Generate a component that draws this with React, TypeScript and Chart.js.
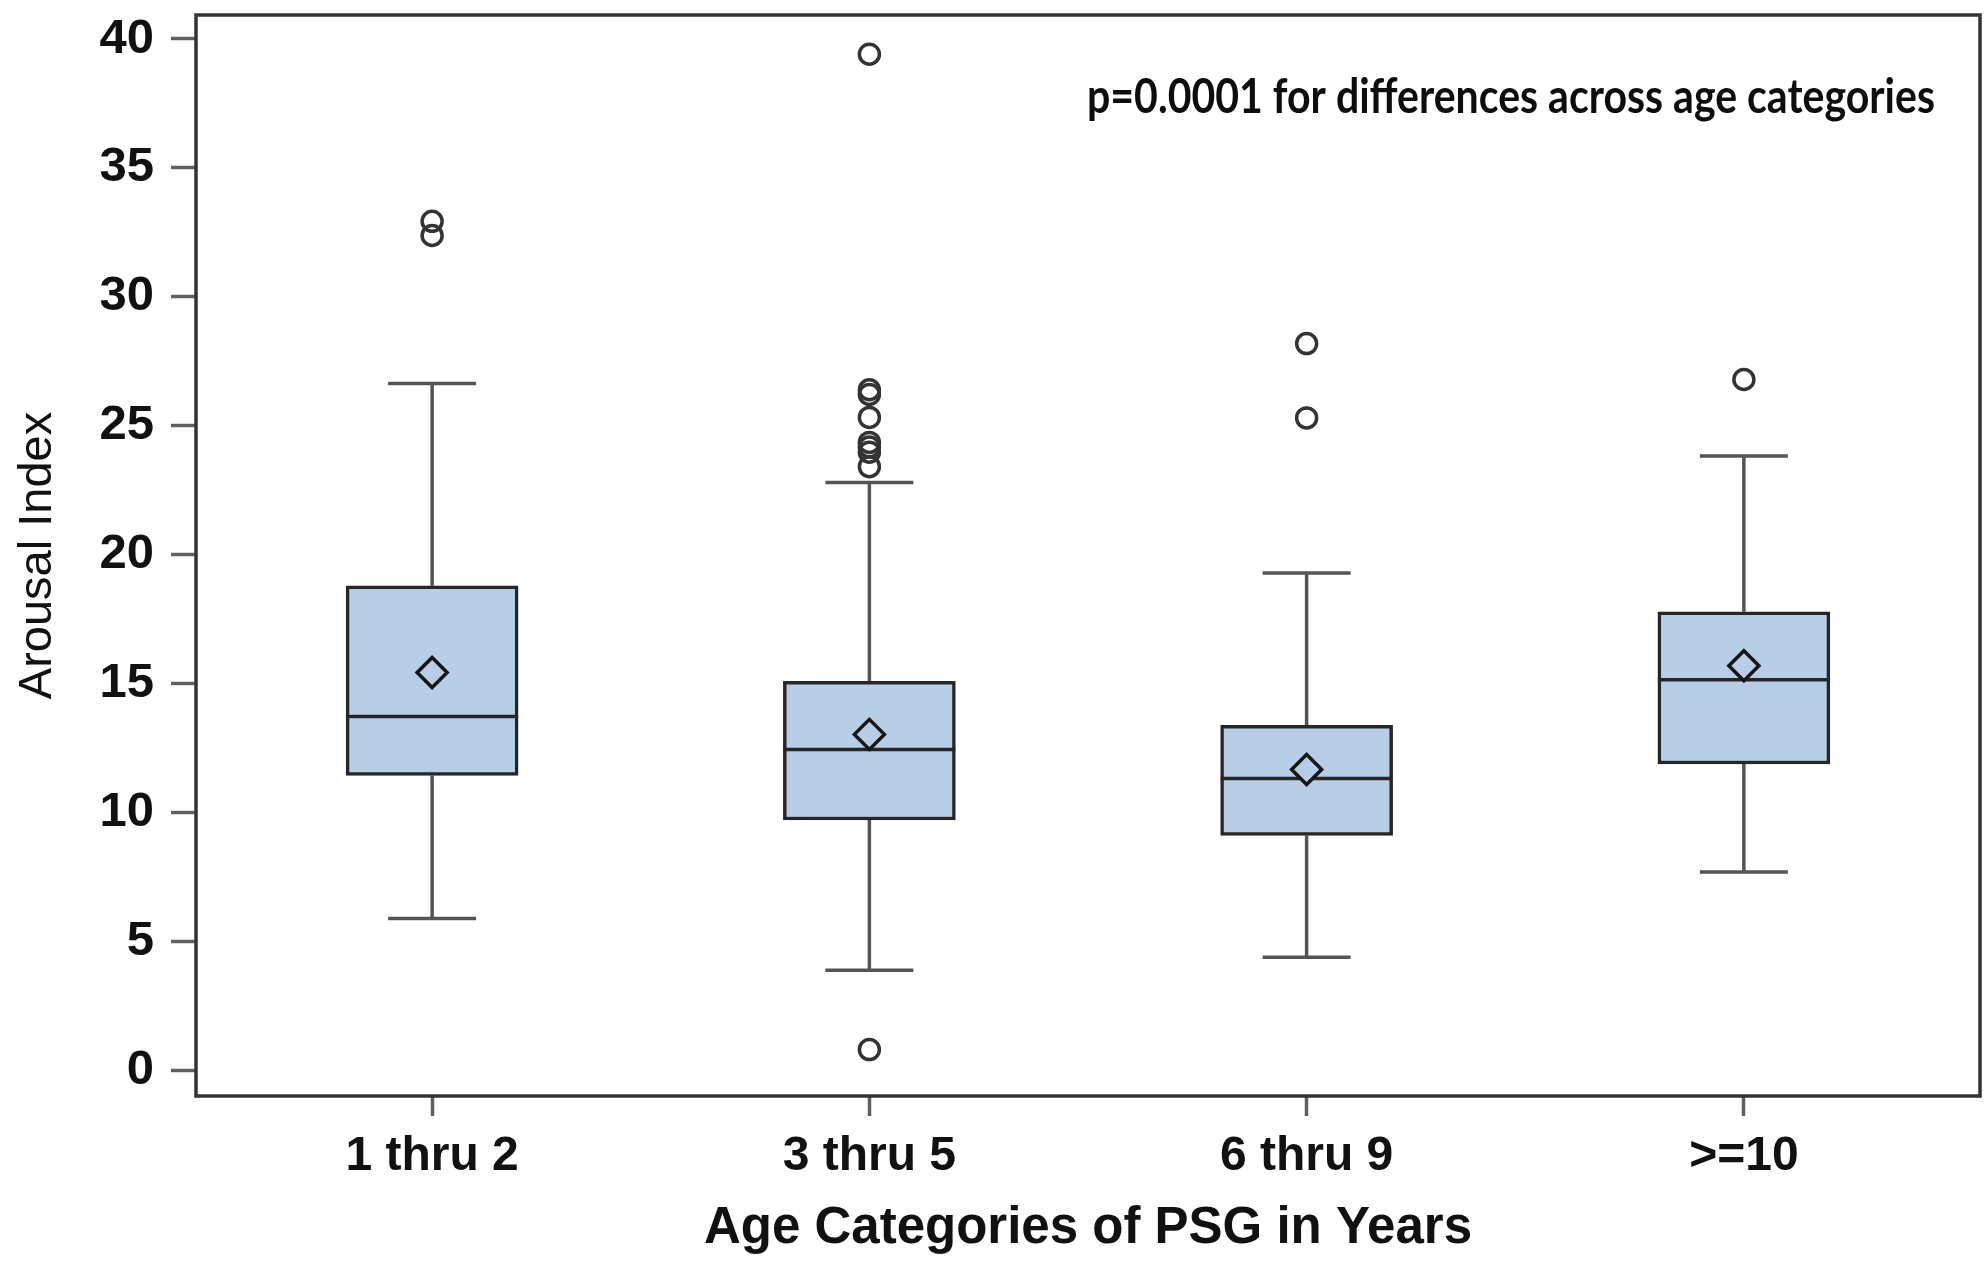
import React, { useEffect, useRef } from 'react';
import { Chart, registerables } from 'chart.js';

Chart.register(...registerables);

// ---- data ----
const categories = ['1 thru 2', '3 thru 5', '6 thru 9', '>=10'];
const whiskerLow = [5.9, 3.9, 4.4, 7.7];
const q1 = [11.45, 9.72, 9.12, 11.89];
const median = [13.73, 12.45, 11.33, 15.16];
const q3 = [18.8, 15.1, 13.39, 17.79];
const whiskerHigh = [26.64, 22.81, 19.3, 23.83];
const means = [15.44, 13.04, 11.68, 15.7];
const outliers1 = [32.93, 32.38];
const outliers2 = [39.41, 26.4, 26.22, 25.33, 24.36, 24.18, 23.98, 23.42, 0.82];
const outliers3 = [28.19, 25.31];
const outliers4 = [26.8];
const yTickValues = [0, 5, 10, 15, 20, 25, 30, 35, 40];
const xTitle = 'Age Categories of PSG in Years';
const yTitle = 'Arousal Index';
const annotation = 'p=0.0001 for differences across age categories';

const outliersByCategory = [outliers1, outliers2, outliers3, outliers4];

const FONT = '"Liberation Sans", Arial, Helvetica, sans-serif';
const BOX_FILL = '#B8CEE7';
const BOX_EDGE = '#262626';
const WHISKER = '#545454';
const CAP_WIDTH = 88;

const zeroPadding = (axis: any) => {
  axis.paddingTop = 0;
  axis.paddingBottom = 0;
  axis.paddingLeft = 0;
  axis.paddingRight = 0;
};

const boxPlugin = {
  id: 'boxParts',
  beforeDatasetsDraw(chart: any) {
    const { ctx, scales } = chart;
    const x = scales.x;
    const y = scales.y;
    ctx.save();
    ctx.strokeStyle = WHISKER;
    ctx.lineWidth = 3.5;
    ctx.lineCap = 'butt';
    categories.forEach((_, i) => {
      const cx = x.getPixelForValue(i);
      const yHi = y.getPixelForValue(whiskerHigh[i]);
      const yLo = y.getPixelForValue(whiskerLow[i]);
      const yQ3 = y.getPixelForValue(q3[i]);
      const yQ1 = y.getPixelForValue(q1[i]);
      ctx.beginPath();
      ctx.moveTo(cx, yQ3);
      ctx.lineTo(cx, yHi);
      ctx.moveTo(cx - CAP_WIDTH / 2, yHi);
      ctx.lineTo(cx + CAP_WIDTH / 2, yHi);
      ctx.moveTo(cx, yQ1);
      ctx.lineTo(cx, yLo);
      ctx.moveTo(cx - CAP_WIDTH / 2, yLo);
      ctx.lineTo(cx + CAP_WIDTH / 2, yLo);
      ctx.stroke();
    });
    ctx.restore();
  },
  afterDatasetDraw(chart: any, args: any) {
    if (args.index !== 0) return;
    const { ctx, scales } = chart;
    const y = scales.y;
    const meta = chart.getDatasetMeta(0);
    ctx.save();
    ctx.strokeStyle = BOX_EDGE;
    ctx.lineWidth = 3.5;
    meta.data.forEach((bar: any, i: number) => {
      const { x: bx, width } = bar.getProps(['x', 'width'], true);
      const my = y.getPixelForValue(median[i]);
      ctx.beginPath();
      ctx.moveTo(bx - width / 2, my);
      ctx.lineTo(bx + width / 2, my);
      ctx.stroke();
    });
    ctx.restore();
  },
  afterDraw(chart: any) {
    const { ctx, chartArea } = chart;
    ctx.save();
    ctx.strokeStyle = '#333';
    ctx.lineWidth = 3.5;
    ctx.strokeRect(chartArea.left, chartArea.top, chartArea.right - chartArea.left, chartArea.bottom - chartArea.top);
    ctx.fillStyle = '#0d0d0d';
    ctx.font = 'bold 48px Lato, "Open Sans", sans-serif';
    ctx.textAlign = 'right';
    ctx.textBaseline = 'alphabetic';
    ctx.fillText(annotation, chartArea.right - 45, chartArea.top + 98, 848);
    ctx.restore();
  },
};

export default function App() {
  const canvasRef = useRef<HTMLCanvasElement | null>(null);

  useEffect(() => {
    const canvas = canvasRef.current;
    if (!canvas) return;

    const boxData = categories.map((_, i) => ({ x: i, y: [q1[i], q3[i]] }));
    const meanData = categories.map((_, i) => ({ x: i, y: means[i] }));
    const outlierData: { x: number; y: number }[] = [];
    outliersByCategory.forEach((list, i) => list.forEach((v) => outlierData.push({ x: i, y: v })));

    const chart = new Chart(canvas, {
      type: 'bar',
      data: {
        datasets: [
          {
            type: 'bar',
            label: 'IQR',
            data: boxData as any,
            backgroundColor: BOX_FILL,
            borderColor: BOX_EDGE,
            borderWidth: 3.5,
            borderSkipped: false,
            barThickness: 172,
            order: 3,
          } as any,
          {
            type: 'scatter',
            label: 'Outliers',
            data: outlierData,
            pointStyle: 'circle',
            pointRadius: 10,
            pointBorderWidth: 3.5,
            pointBorderColor: '#333',
            pointBackgroundColor: 'rgba(0,0,0,0)',
            order: 2,
          } as any,
          {
            type: 'scatter',
            label: 'Mean',
            data: meanData,
            pointStyle: 'rectRot',
            pointRadius: 15,
            pointBorderWidth: 3.5,
            pointBorderColor: '#151515',
            pointBackgroundColor: BOX_FILL,
            order: 1,
          } as any,
        ],
      },
      options: {
        responsive: false,
        animation: false,
        events: [],
        layout: { autoPadding: false, padding: { top: 15, right: 6, left: 0, bottom: 0 } },
        plugins: {
          legend: { display: false },
          tooltip: { enabled: false },
        },
        scales: {
          x: {
            type: 'linear',
            min: -0.54,
            max: 3.54,
            offset: false,
            afterBuildTicks: (axis: any) => {
              axis.ticks = categories.map((_, i) => ({ value: i }));
            },
            afterFit: (axis: any) => {
              axis.height = 170;
              zeroPadding(axis);
            },
            ticks: {
              autoSkip: false,
              maxRotation: 0,
              minRotation: 0,
              padding: 12,
              color: '#111',
              font: { family: FONT, size: 48, weight: 'bold' },
              callback: (v: any) => categories[Math.round(Number(v))] ?? '',
            },
            grid: {
              offset: false,
              drawOnChartArea: false,
              drawTicks: true,
              tickLength: 20,
              tickWidth: 3.5,
              tickColor: '#606060',
            },
            border: { display: false },
            title: {
              display: true,
              text: xTitle,
              color: '#111',
              font: { family: FONT, size: 51, weight: 'bold' },
              padding: { top: 0, bottom: 6 },
            },
          },
          y: {
            type: 'linear',
            min: -0.98,
            max: 40.93,
            afterBuildTicks: (axis: any) => {
              axis.ticks = yTickValues.map((v) => ({ value: v }));
            },
            afterFit: (axis: any) => {
              axis.width = 196;
              zeroPadding(axis);
            },
            ticks: {
              padding: 17,
              color: '#111',
              font: { family: FONT, size: 49, weight: 'bold' },
            },
            grid: {
              offset: false,
              drawOnChartArea: false,
              drawTicks: true,
              tickLength: 25,
              tickWidth: 3.5,
              tickColor: '#606060',
            },
            border: { display: false },
            title: {
              display: true,
              text: yTitle,
              color: '#111',
              font: { family: FONT, size: 47, weight: 'normal' },
              padding: { top: 10, bottom: 0 },
            },
          },
        },
      } as any,
      plugins: [boxPlugin],
    });

    return () => {
      chart.destroy();
    };
  }, []);

  return (
    <div style={{ position: 'absolute', left: 0, top: 0, width: 1986, height: 1266, background: '#fff' }}>
      <canvas ref={canvasRef} width={1986} height={1266} style={{ display: 'block' }} />
    </div>
  );
}
